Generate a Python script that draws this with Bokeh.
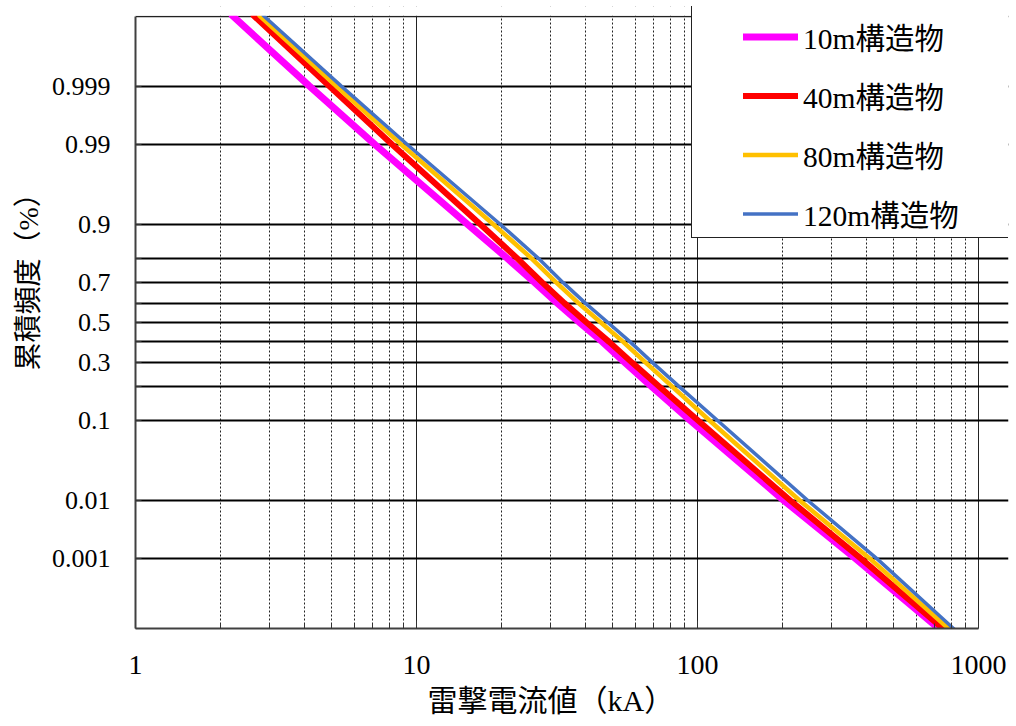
from statistics import NormalDist

from bokeh.plotting import figure
from bokeh.models import (Range1d, FixedTicker, Legend, LegendItem, Title, Grid,
                          BoxAnnotation)
from bokeh.embed import file_html
from bokeh.resources import INLINE

# ---------------- data ----------------
# cumulative frequency levels at which the currents were read
levels = [0.99997, 0.999, 0.99, 0.9, 0.8, 0.7, 0.6, 0.5, 0.4, 0.3,
          0.2, 0.1, 0.01, 0.001, 0.00003]

# lightning current (kA) for each level
current_10m = [2.21, 4.16, 7.12, 15.2, 21.0, 26.3, 31.7, 38.1, 45.9, 55.2,
               68.9, 94.4, 203, 366, 729]
current_40m = [2.63, 4.89, 8.19, 16.9, 22.8, 28.0, 33.6, 40.3, 48.5, 58.5,
               73.4, 100.5, 214, 383, 754]
current_80m = [2.76, 5.18, 8.83, 18.8, 25.6, 31.4, 37.7, 45.3, 54.4, 65.4,
               81.5, 110.4, 231, 412, 789]
current_120m = [2.85, 5.40, 9.27, 19.9, 27.1, 33.2, 39.9, 48.0, 57.6, 69.2,
                86.3, 117.9, 247, 436, 822]

series_names = ["10m構造物", "40m構造物", "80m構造物", "120m構造物"]
series_data = [current_10m, current_40m, current_80m, current_120m]
series_colors = ["#FF00FF", "#FF0000", "#FFC000", "#4472C4"]
series_widths = [7, 6, 4.5, 3.5]

y_ticks = [0.001, 0.01, 0.1, 0.2, 0.3, 0.4, 0.5, 0.6, 0.7, 0.8, 0.9, 0.99, 0.999]
y_tick_labels = ["0.001", "0.01", "0.1", "", "0.3", "", "0.5", "", "0.7", "",
                 "0.9", "0.99", "0.999"]
x_ticks = [1, 10, 100, 1000]
x_tick_labels = ["1", "10", "100", "1000"]
x_minor_mantissas = [2, 3, 4, 5, 6, 7, 8, 9]

x_title = "雷撃電流値（kA）"
y_title = "累積頻度（%）"

# ---------------- probability (normal) scale ----------------
nd = NormalDist()


def probit(pv):
    return round(nd.inv_cdf(pv), 6)


z_levels = [probit(v) for v in levels]
z_ticks = [probit(v) for v in y_ticks]

SERIF = "'Liberation Serif', 'Noto Sans CJK JP', serif"

# visible chart box: x 1..1000, z -4..4; the drawing frame is slightly larger
# (to the right and above) so that the legend box can overhang the chart box.
X_LO, X_HI = 1, 1000
Z_LO, Z_HI = -4, 4

p = figure(width=1016, height=726, x_axis_type="log",
           x_range=Range1d(X_LO, 1279.0), y_range=Range1d(Z_LO, 4.1307),
           output_backend="svg", toolbar_location=None, title=None,
           min_border_left=135, min_border_right=8,
           min_border_top=6, min_border_bottom=98)
p.background_fill_color = "white"
p.border_fill_color = "white"
p.outline_line_color = None

# x axis
minor = [m * 10 ** d for d in range(3) for m in x_minor_mantissas]
xa = p.xaxis[0]
xa.ticker = FixedTicker(ticks=x_ticks, minor_ticks=minor)
xa.bounds = (X_LO, X_HI)
xa.major_label_overrides = dict(zip(x_ticks, x_tick_labels))
xa.major_label_text_font = SERIF
xa.major_label_text_font_size = "28px"
xa.major_label_text_color = "black"
xa.major_label_standoff = 27
xa.major_tick_in = 8
xa.major_tick_out = 0
xa.minor_tick_in = 5
xa.minor_tick_out = 0
xa.major_tick_line_color = "#333333"
xa.minor_tick_line_color = "#333333"
xa.axis_line_color = "#404040"
xa.axis_line_width = 2
xa.axis_label = None

xtitle = Title(text=x_title, align="left", offset=292,
               text_font=SERIF, text_font_size="30px",
               text_font_style="normal", text_color="black")
p.add_layout(xtitle, "below")

# y axis
ya = p.yaxis[0]
ya.ticker = FixedTicker(ticks=z_ticks)
ya.bounds = (Z_LO, Z_HI)
ya.major_label_overrides = dict(zip(z_ticks, y_tick_labels))
ya.major_label_text_font = SERIF
ya.major_label_text_font_size = "26px"
ya.major_label_text_color = "black"
ya.major_label_standoff = 25
ya.major_tick_in = 6
ya.major_tick_out = 0
ya.major_tick_line_color = "#333333"
ya.axis_line_color = "#404040"
ya.axis_line_width = 2
ya.axis_label = None

# y-axis title, placed like the reference (left side, reading upward)
ytitle = Title(text=y_title, align="left", offset=258,
               text_font=SERIF, text_font_size="28px",
               text_font_style="normal", text_color="black")
p.add_layout(ytitle, "left")

# grids (limited to the chart box)
p.ygrid.grid_line_color = "black"
p.ygrid.grid_line_width = 2
p.ygrid.bounds = (X_LO, X_HI)
p.xgrid.grid_line_color = "#222222"
p.xgrid.grid_line_width = 1
p.xgrid.minor_grid_line_color = "#222222"
p.xgrid.minor_grid_line_width = 1
p.xgrid.minor_grid_line_dash = "2 2"
p.xgrid.bounds = (Z_LO, Z_HI)

# top edge of the chart box
top_edge = Grid(dimension=1, ticker=FixedTicker(ticks=[Z_HI]),
                bounds=(X_LO, X_HI), grid_line_color="#222222",
                grid_line_width=1.5)
p.add_layout(top_edge)

# curves
items = []
for name, cur, col, w in zip(series_names, series_data, series_colors, series_widths):
    r = p.line(x=cur, y=z_levels, line_color=col, line_width=w, line_cap="round")
    items.append(LegendItem(label=name, renderers=[r]))

# white band above the chart box, so curves stop at its top edge
mask = BoxAnnotation(bottom=Z_HI + 0.01, bottom_units="data",
                     fill_color="white", fill_alpha=1.0, line_alpha=0)
p.add_layout(mask)

# legend frame (white box with border) drawn as an empty legend
frame_src = p.line(x=[], y=[], line_alpha=0)
legend_frame = Legend(items=[LegendItem(label=" ", renderers=[frame_src])],
                      location=(556, 390), orientation="vertical",
                      glyph_width=1, glyph_height=231, label_height=231,
                      label_width=315, label_standoff=0,
                      padding=0, margin=0, spacing=0,
                      border_line_color="#222222", border_line_alpha=1.0,
                      border_line_width=1.5,
                      background_fill_color="white", background_fill_alpha=1.0,
                      label_text_font_size="10px")
p.add_layout(legend_frame)

legend = Legend(items=items, location=(608, 394), orientation="vertical",
                glyph_width=55, glyph_height=41, label_height=41,
                spacing=17, padding=0, margin=0, label_standoff=5,
                border_line_alpha=0, background_fill_alpha=0,
                label_text_font=SERIF, label_text_font_size="29.5px",
                label_text_color="black")
p.add_layout(legend)

open("out.html", "w").write(file_html(p, INLINE))
